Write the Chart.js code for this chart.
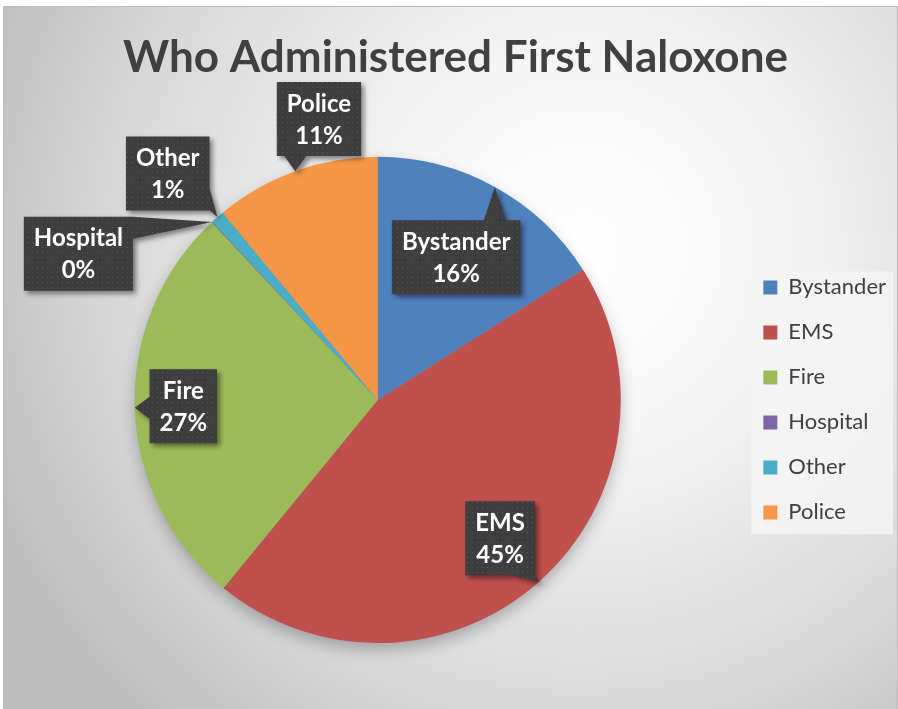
<!DOCTYPE html>
<html>
<head>
<meta charset="utf-8">
<script src="https://cdn.jsdelivr.net/npm/chart.js@4.4.1/dist/chart.umd.min.js"></script>
<style>
  html, body { margin: 0; padding: 0; background: #fff; }
  #wrap { width: 898px; height: 709px; }
</style>
</head>
<body>
<div id="wrap"><canvas id="c" width="898" height="709"></canvas></div>
<script>
// values (percent of first naloxone administrations)
const categories = ['Bystander', 'EMS', 'Fire', 'Hospital', 'Other', 'Police'];
const shares = [16.0, 44.9, 27.1, 0.05, 0.9, 11.0];
const sliceColors = ['#4F81BD', '#C0504D', '#9BBB59', '#8064A2', '#4BACC6', '#F79646'];

// callout placement: distance from centre (in radii) and angle shift (deg)
const calloutDist = [0.67, 0.76, 0.80, 1.37, 1.27, 1.18];
const calloutShift = [0, 0, 0, -21, -1.6, 8];

const labelFont = 'bold 24px Lato';

function dotPattern(ctx) {
  const p = document.createElement('canvas');
  p.width = 5; p.height = 5;
  const g = p.getContext('2d');
  g.fillStyle = '#3e3e3e';
  g.fillRect(0, 0, 5, 5);
  g.fillStyle = '#575757';
  g.fillRect(2, 2, 1, 1);
  return ctx.createPattern(p, 'repeat');
}

// triangle from the nearest box side to the target point
function pointerFor(box, tx, ty) {
  const ox = tx < box.l ? box.l - tx : (tx > box.r ? tx - box.r : 0);
  const oy = ty < box.t ? box.t - ty : (ty > box.b ? ty - box.b : 0);
  if (ox === 0 && oy === 0) return null;
  const hw = 11;
  if (oy >= ox) {
    const y = ty < box.t ? box.t : box.b;
    const cx = Math.min(Math.max(tx, box.l + hw), box.r - hw);
    return [[cx - hw, y], [cx + hw, y], [tx, ty]];
  }
  const x = tx < box.l ? box.l : box.r;
  const cy = Math.min(Math.max(ty, box.t + hw), box.b - hw);
  return [[x, cy - hw], [x, cy + hw], [tx, ty]];
}

const backdrop = {
  id: 'backdrop',
  beforeDraw(chart) {
    const ctx = chart.ctx;
    ctx.save();
    const grad = ctx.createRadialGradient(580, 250, 0, 580, 250, 640);
    grad.addColorStop(0, '#ffffff');
    grad.addColorStop(0.3, '#f5f5f5');
    grad.addColorStop(0.75, '#d6d6d6');
    grad.addColorStop(1, '#bdbdbd');
    ctx.fillStyle = grad;
    ctx.fillRect(3, 6, 895, 703);
    ctx.strokeStyle = '#bcbcbc';
    ctx.lineWidth = 1;
    ctx.strokeRect(3.5, 6.5, 894, 703);

    // legend panel
    const lg = chart.legend;
    if (lg && lg.legendHitBoxes.length) {
      const hb = lg.legendHitBoxes;
      const first = hb[0], last = hb[hb.length - 1];
      ctx.fillStyle = 'rgba(245,245,245,0.85)';
      ctx.fillRect(first.left - 12, first.top - 5, 893 - (first.left - 12), last.top + last.height + 11 - (first.top - 5));
    }
    ctx.restore();
  }
};

const pieShadow = {
  id: 'pieShadow',
  beforeDatasetsDraw(chart) {
    const arc = chart.getDatasetMeta(0).data[0];
    if (!arc) return;
    const ctx = chart.ctx;
    ctx.save();
    ctx.shadowColor = 'rgba(0,0,0,0.28)';
    ctx.shadowBlur = 16;
    ctx.shadowOffsetY = 7;
    ctx.fillStyle = '#999';
    ctx.beginPath();
    ctx.arc(arc.x, arc.y, arc.outerRadius - 1, 0, Math.PI * 2);
    ctx.fill();
    ctx.restore();
  }
};

const callouts = {
  id: 'callouts',
  afterDatasetsDraw(chart) {
    const ctx = chart.ctx;
    const meta = chart.getDatasetMeta(0);
    const total = shares.reduce((a, b) => a + b, 0);
    const fill = dotPattern(ctx);
    ctx.save();
    ctx.font = labelFont;
    meta.data.forEach((arc, i) => {
      const mid = (arc.startAngle + arc.endAngle) / 2;
      const R = arc.outerRadius;
      const a = mid + calloutShift[i] * Math.PI / 180;
      const cx = arc.x + Math.cos(a) * R * calloutDist[i];
      const cy = arc.y + Math.sin(a) * R * calloutDist[i];
      const line1 = categories[i];
      const line2 = Math.round(shares[i] / total * 100) + '%';
      const w = Math.max(ctx.measureText(line1).width, ctx.measureText(line2).width) + 20;
      const h = 74;
      const box = { l: cx - w / 2, r: cx + w / 2, t: cy - h / 2, b: cy + h / 2 };
      const tx = arc.x + Math.cos(mid) * R;
      const ty = arc.y + Math.sin(mid) * R;
      const tri = pointerFor(box, tx, ty);

      ctx.save();
      ctx.shadowColor = 'rgba(0,0,0,0.45)';
      ctx.shadowBlur = 5;
      ctx.shadowOffsetX = 3;
      ctx.shadowOffsetY = 3;
      ctx.fillStyle = fill;
      ctx.beginPath();
      ctx.rect(box.l, box.t, w, h);
      if (tri) {
        ctx.moveTo(tri[0][0], tri[0][1]);
        ctx.lineTo(tri[2][0], tri[2][1]);
        ctx.lineTo(tri[1][0], tri[1][1]);
        ctx.closePath();
      }
      ctx.fill();
      ctx.restore();

      ctx.fillStyle = '#ffffff';
      ctx.textAlign = 'center';
      ctx.textBaseline = 'middle';
      ctx.fillText(line1, cx, cy - 15);
      ctx.fillText(line2, cx, cy + 17);
    });
    ctx.restore();
  }
};

new Chart(document.getElementById('c'), {
  type: 'pie',
  data: {
    labels: categories,
    datasets: [{
      data: shares,
      backgroundColor: sliceColors,
      borderWidth: 0
    }]
  },
  options: {
    responsive: false,
    animation: false,
    layout: { padding: { left: 15, right: 2, top: 0, bottom: 66 } },
    plugins: {
      title: {
        display: true,
        text: 'Who Administered First Naloxone',
        color: '#404040',
        font: { family: 'Lato', size: 44, weight: 'bold' },
        padding: { top: 31, bottom: 73 }
      },
      legend: {
        position: 'right',
        fullSize: false,
        labels: {
          color: '#404040',
          font: { family: 'Lato', size: 22 },
          boxWidth: 14,
          boxHeight: 14,
          padding: 23
        }
      },
      tooltip: { enabled: false }
    }
  },
  plugins: [backdrop, pieShadow, callouts]
});
</script>
</body>
</html>
